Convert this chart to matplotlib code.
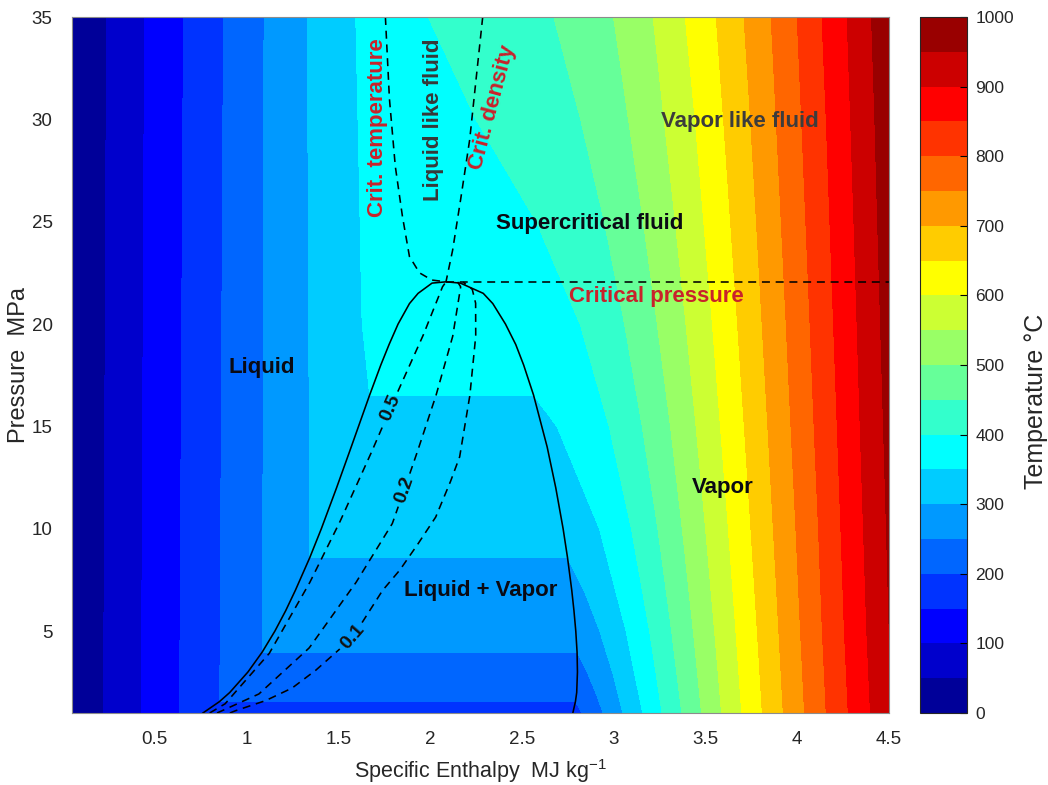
import numpy as np
import matplotlib
matplotlib.use("Agg")
import matplotlib.pyplot as plt
from matplotlib.colors import ListedColormap

plt.rcParams['font.family'] = ['Liberation Sans', 'DejaVu Sans']
plt.rcParams['mathtext.fontset'] = 'custom'
plt.rcParams['mathtext.rm'] = 'Liberation Sans'
plt.rcParams['mathtext.it'] = 'Liberation Sans:italic'

# ---- data --------------------------------------------------------------
levels = np.arange(0, 1001, 50)                 # deg C, colour bands
cbar_ticks = [0, 100, 200, 300, 400, 500, 600, 700, 800, 900, 1000]
xticks = [0.5, 1, 1.5, 2, 2.5, 3, 3.5, 4, 4.5]
xtick_labels = ['0.5', '1', '1.5', '2', '2.5', '3', '3.5', '4', '4.5']
yticks = [5, 10, 15, 20, 25, 30, 35]

# saturation dome: pressure (MPa), T_sat (C), h liquid / h vapor (MJ/kg)
sat_p = [1.0, 1.555, 2.0, 3.0, 3.976, 5.0, 6.0, 7.0, 8.588, 10.0, 12.0, 14.0,
         16.529, 18.0, 19.0, 20.0, 21.0, 21.5, 22.0, 22.064]
sat_t = [179.9, 200.0, 212.4, 233.9, 250.0, 263.9, 275.6, 285.8, 300.0, 311.0,
         324.7, 336.7, 350.0, 357.0, 361.5, 365.8, 369.8, 371.8, 373.7, 373.95]
sat_hf = [0.763, 0.853, 0.909, 1.008, 1.086, 1.155, 1.214, 1.267, 1.345, 1.408,
          1.491, 1.571, 1.671, 1.732, 1.777, 1.826, 1.888, 1.935, 2.011, 2.087]
sat_hg = [2.778, 2.792, 2.799, 2.803, 2.801, 2.794, 2.784, 2.772, 2.749, 2.725,
          2.685, 2.638, 2.564, 2.510, 2.467, 2.411, 2.342, 2.290, 2.166, 2.087]

# compressed-liquid isotherms: pressures and enthalpies of each band edge
liquid_p = {0: [1, 35], 50: [1, 35], 100: [1, 35], 150: [1, 35],
            200: [1.555, 35], 250: [3.976, 35], 300: [8.588, 35],
            350: [16.529, 20, 35]}
liquid_h = {0: [0.001, 0.035], 50: [0.222, 0.238], 100: [0.428, 0.445],
            150: [0.636, 0.657], 200: [0.855, 0.875], 250: [1.088, 1.096],
            300: [1.345, 1.332], 350: [1.671, 1.630, 1.595]}

# superheated / supercritical isotherms
grid_p = [1, 5, 10, 15, 20, 25, 30, 35]
vapor_p = {200: [1, 1.555], 250: [1, 2, 3, 3.976], 300: [1, 3, 5, 7, 8.588],
           350: [1, 5, 10, 15, 16.529]}
vapor_h = {200: [2.828, 2.792],
           250: [2.943, 2.903, 2.856, 2.801],
           300: [3.051, 2.994, 2.925, 2.839, 2.749],
           350: [3.158, 3.068, 2.923, 2.692, 2.564],
           400: [3.264, 3.196, 3.097, 2.976, 2.818, 2.580, 2.250, 1.990],
           450: [3.371, 3.316, 3.241, 3.156, 3.060, 2.950, 2.821, 2.675],
           500: [3.479, 3.434, 3.374, 3.310, 3.238, 3.162, 3.081, 3.000],
           550: [3.588, 3.550, 3.501, 3.449, 3.394, 3.336, 3.275, 3.215],
           600: [3.698, 3.666, 3.625, 3.582, 3.538, 3.491, 3.444, 3.390],
           650: [3.810, 3.783, 3.748, 3.712, 3.675, 3.637, 3.599, 3.559],
           700: [3.924, 3.900, 3.870, 3.840, 3.809, 3.778, 3.746, 3.710],
           750: [4.040, 4.018, 3.993, 3.966, 3.940, 3.913, 3.886, 3.858],
           800: [4.158, 4.137, 4.116, 4.092, 4.070, 4.047, 4.024, 4.000],
           850: [4.278, 4.257, 4.238, 4.218, 4.198, 4.178, 4.158, 4.135],
           900: [4.399, 4.379, 4.361, 4.343, 4.326, 4.309, 4.291, 4.272],
           950: [4.521, 4.501, 4.486, 4.470, 4.454, 4.438, 4.423, 4.405],
           1000: [4.645, 4.626, 4.611, 4.596, 4.582, 4.568, 4.554, 4.540]}
for t in range(400, 1001, 50):
    vapor_p[t] = grid_p

# dashed lines inside the dome (labels 0.5 / 0.2 / 0.1)
q05_p = [1.0, 1.44, 3.89, 7.32, 10.26, 13.49, 16.43, 19.37, 21.82, 22.06]
q05_h = [0.80, 0.883, 1.123, 1.342, 1.505, 1.669, 1.811, 1.959, 2.068, 2.087]
q02_p = [1.0, 1.93, 4.18, 7.32, 10.26, 13.49, 16.43, 19.37, 21.82, 22.06]
q02_h = [0.84, 1.068, 1.342, 1.593, 1.795, 1.921, 2.030, 2.123, 2.167, 2.150]
q01_p = [1.0, 1.1, 1.59, 2.22, 3.06, 4.67, 6.97, 7.95, 9.08, 10.55, 12.2,
         13.49, 16.43, 19.37, 21.0, 21.7, 22.05]
q01_h = [0.91, 0.937, 1.101, 1.249, 1.374, 1.577, 1.740, 1.833, 1.921, 2.030,
         2.107, 2.161, 2.216, 2.249, 2.249, 2.230, 2.180]
quality_labels = ['0.5', '0.2', '0.1']
quality_label_p = [15.9, 11.9, 4.7]

# critical lines
crit_t_p = [35.0, 31.0, 27.7, 25.25, 23.3, 22.5, 22.15, 22.064]
crit_t_h = [1.757, 1.779, 1.811, 1.850, 1.888, 1.943, 2.010, 2.087]
crit_d_p = [35.0, 31.8, 29.0, 26.1, 23.6, 22.064]
crit_d_h = [2.287, 2.249, 2.216, 2.167, 2.123, 2.087]
crit_pressure = 22.064
crit_enthalpy = 2.087

# MATLAB jet(20)
jet20 = ListedColormap([
    (0, 0, 0.6), (0, 0, 0.8), (0, 0, 1), (0, 0.2, 1), (0, 0.4, 1),
    (0, 0.6, 1), (0, 0.8, 1), (0, 1, 1), (0.2, 1, 0.8), (0.4, 1, 0.6),
    (0.6, 1, 0.4), (0.8, 1, 0.2), (1, 1, 0), (1, 0.8, 0), (1, 0.6, 0),
    (1, 0.4, 0), (1, 0.2, 0), (1, 0, 0), (0.8, 0, 0), (0.6, 0, 0)])

# ---- temperature field T(h, p) built from the isotherms -----------------
h_axis = np.linspace(0.05, 4.5, 900)
p_axis = np.linspace(1.0, 35.0, 700)
T = np.empty((len(p_axis), len(h_axis)))
for i, p in enumerate(p_axis):
    kh, kt = [], []
    for t, pp in liquid_p.items():
        if pp[0] <= p <= pp[-1]:
            kh.append(np.interp(p, pp, liquid_h[t]))
            kt.append(t)
    if p < sat_p[-1]:
        ts = np.interp(p, sat_p, sat_t)
        kh += [np.interp(p, sat_p, sat_hf), np.interp(p, sat_p, sat_hg)]
        kt += [ts, ts]
    for t, pp in vapor_p.items():
        if pp[0] <= p <= pp[-1]:
            kh.append(np.interp(p, pp, vapor_h[t]))
            kt.append(t)
    kh = np.array(kh)
    kt = np.array(kt)
    order = np.argsort(kh)
    T[i] = np.interp(h_axis, kh[order], kt[order])

# ---- figure ------------------------------------------------------------
fig = plt.figure(figsize=(10.48, 7.85), dpi=100)
ax = fig.add_axes([72 / 1048, 1 - 713 / 785, 817 / 1048, 696 / 785])
cax = fig.add_axes([920 / 1048, 1 - 713 / 785, 47 / 1048, 696 / 785])

cf = ax.contourf(h_axis, p_axis, T, levels=levels, cmap=jet20, vmin=0, vmax=1000)
ax.set_xlim(0.05, 4.5)
ax.set_ylim(1, 35)

dash = dict(color='black', lw=1.15, dashes=(5, 3.6))


def broken_line(h, p, gap_h=None, gap_p=None, radius=17):
    # draw a dashed curve with a gap where its label sits
    pts = ax.transData.transform(np.column_stack([h, p]))
    s = np.r_[0, np.cumsum(np.hypot(*np.diff(pts, axis=0).T))]
    sf = np.linspace(0, s[-1], int(s[-1]) + 2)
    xy = np.column_stack([np.interp(sf, s, pts[:, 0]), np.interp(sf, s, pts[:, 1])])
    if gap_h is not None:
        c = ax.transData.transform((gap_h, gap_p))
        xy[np.hypot(*(xy - c).T) < radius] = np.nan
    d = ax.transData.inverted().transform(xy)
    ax.plot(d[:, 0], d[:, 1], **dash)


# saturation dome
ax.plot(np.r_[sat_hf, sat_hg[::-1]], np.r_[sat_p, sat_p[::-1]], color='black', lw=1.15)

# dashed lines in the dome with their labels
for lab, lp, hh, pp in zip(quality_labels, quality_label_p,
                           [q05_h, q02_h, q01_h], [q05_p, q02_p, q01_p]):
    lh = np.interp(lp, pp, hh)
    a = ax.transData.transform((np.interp(lp - 0.6, pp, hh), lp - 0.6))
    b = ax.transData.transform((np.interp(lp + 0.6, pp, hh), lp + 0.6))
    ang = np.degrees(np.arctan2(b[1] - a[1], b[0] - a[0]))
    broken_line(hh, pp, lh, lp)
    ax.text(lh, lp, lab, rotation=ang, rotation_mode='anchor', ha='center',
            va='center', fontsize=14, fontweight='bold', color='#111111')

ax.plot(crit_t_h, crit_t_p, **dash)
ax.plot(crit_d_h, crit_d_p, **dash)
ax.plot([crit_enthalpy, 4.5], [crit_pressure, crit_pressure], **dash)

red = '#c8232b'
bold = dict(fontsize=16, fontweight='bold', ha='center', va='center')
ax.text(1.713, 29.6, 'Crit. temperature', rotation=90, color=red, **bold)
ax.text(2.02, 30.0, 'Liquid like fluid', rotation=90, color='#383838', **bold)
ax.text(2.342, 30.6, 'Crit. density', rotation=75, color=red, **bold)
ax.text(3.686, 29.9, 'Vapor like fluid', color='#3c3c3c', **bold)
ax.text(2.872, 24.9, 'Supercritical fluid', color='#0a0a14', **bold)
ax.text(3.232, 21.35, 'Critical pressure', color=red, **bold)
ax.text(1.085, 17.9, 'Liquid', color='#0a0a14', **bold)
ax.text(2.276, 6.97, 'Liquid + Vapor', color='#0a0a14', **bold)
ax.text(3.593, 12.0, 'Vapor', color='#0a0a14', **bold)

ax.set_xticks(xticks)
ax.set_xticklabels(xtick_labels)
ax.set_yticks(yticks)
ax.tick_params(axis='both', length=0, labelsize=13.5, labelcolor='#262626')
ax.tick_params(axis='x', pad=13)
ax.tick_params(axis='y', pad=14)
for sp in ax.spines.values():
    sp.set_color('#8c8c8c')
    sp.set_linewidth(0.8)

cb = fig.colorbar(cf, cax=cax, ticks=cbar_ticks)
cb.outline.set_edgecolor('#262626')
cb.outline.set_linewidth(0.8)
cb.ax.tick_params(direction='in', length=5, width=0.8, labelsize=12.5,
                  labelcolor='#262626', pad=6)

fig.text(19 / 1048, 1 - 365 / 785, 'Pressure  MPa', rotation=90, ha='center',
         va='center', fontsize=17, color='#262626')
fig.text(480 / 1048, 1 - 771 / 785, 'Specific Enthalpy  MJ kg$^{-1}$', ha='center',
         va='center', fontsize=15.5, color='#262626')
fig.text(1036 / 1048, 1 - 401 / 785, 'Temperature \u00b0C', rotation=90, ha='center',
         va='center', fontsize=18, color='#262626')

fig.savefig('out.png', dpi=100)
